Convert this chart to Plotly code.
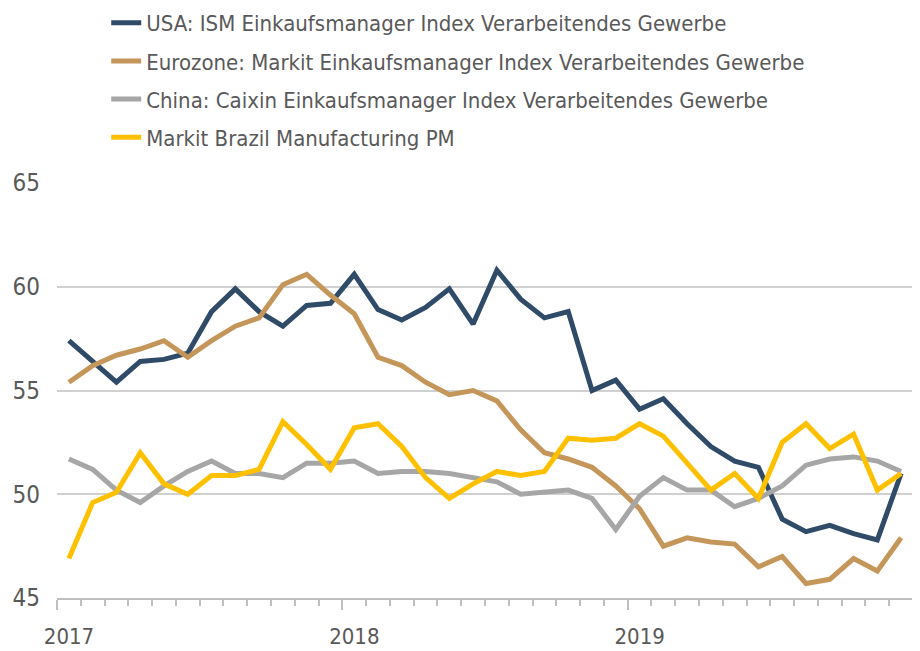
import plotly.graph_objects as go

months = [f"{y}-{m:02d}" for y in (2017, 2018, 2019) for m in range(1, 13)]
idx = list(range(len(months)))

usa = [57.4, 56.4, 55.4, 56.4, 56.5, 56.8, 58.8, 59.9, 58.8, 58.1, 59.1, 59.2,
       60.6, 58.9, 58.4, 59.0, 59.9, 58.2, 60.8, 59.4, 58.5, 58.8, 55.0, 55.5,
       54.1, 54.6, 53.4, 52.3, 51.6, 51.3, 48.8, 48.2, 48.5, 48.1, 47.8, 51.0]
eurozone = [55.4, 56.2, 56.7, 57.0, 57.4, 56.6, 57.4, 58.1, 58.5, 60.1, 60.6, 59.6,
            58.7, 56.6, 56.2, 55.4, 54.8, 55.0, 54.5, 53.1, 52.0, 51.7, 51.3, 50.4,
            49.3, 47.5, 47.9, 47.7, 47.6, 46.5, 47.0, 45.7, 45.9, 46.9, 46.3, 47.9]
china = [51.7, 51.2, 50.2, 49.6, 50.4, 51.1, 51.6, 51.0, 51.0, 50.8, 51.5, 51.5,
         51.6, 51.0, 51.1, 51.1, 51.0, 50.8, 50.6, 50.0, 50.1, 50.2, 49.8, 48.3,
         49.9, 50.8, 50.2, 50.2, 49.4, 49.8, 50.4, 51.4, 51.7, 51.8, 51.6, 51.1]
brazil = [46.9, 49.6, 50.1, 52.0, 50.5, 50.0, 50.9, 50.9, 51.2, 53.5, 52.4, 51.2,
          53.2, 53.4, 52.3, 50.8, 49.8, 50.5, 51.1, 50.9, 51.1, 52.7, 52.6, 52.7,
          53.4, 52.8, 51.5, 50.2, 51.0, 49.8, 52.5, 53.4, 52.2, 52.9, 50.2, 51.0]

names = ["USA: ISM Einkaufsmanager Index Verarbeitendes Gewerbe",
         "Eurozone: Markit Einkaufsmanager Index Verarbeitendes Gewerbe",
         "China: Caixin Einkaufsmanager Index Verarbeitendes Gewerbe",
         "Markit Brazil Manufacturing PM"]
colors = ["#2F4B68", "#C4965A", "#A6A6A6", "#FFC000"]
series = [usa, eurozone, china, brazil]

year_ticks = [-0.5, 11.5, 23.5, 35.5]
year_labels = ["2017", "2018", "2019", ""]
y_ticks = [45, 50, 55, 60, 65]

FONT = "DejaVu Sans Condensed, sans-serif"

fig = go.Figure()
for i, (name, col, vals) in enumerate(zip(names, colors, series)):
    fig.add_trace(go.Scatter(x=idx, y=vals, name=name, mode="lines",
                             legendgroup=f"g{i}",
                             line=dict(color=col, width=5)))

fig.update_layout(
    width=920, height=651,
    margin=dict(l=49, r=15, t=175, b=61, autoexpand=False),
    paper_bgcolor="white", plot_bgcolor="white",
    font=dict(family=FONT, color="#595959", size=22),
    showlegend=True,
    legend=dict(x=0.0575, xanchor="left", y=1.436, yanchor="top",
                font=dict(size=22, color="#595959"),
                tracegroupgap=6.5,
                bgcolor="rgba(0,0,0,0)", traceorder="grouped"),
)
fig.update_xaxes(range=[-0.5, 35.5], tickmode="array", tickvals=year_ticks,
                 ticktext=year_labels, ticks="outside", ticklen=10, tickwidth=1.5,
                 tickcolor="#BFBFBF", ticklabelshift=12, ticklabelstandoff=8,
                 showline=True, linecolor="#BFBFBF", linewidth=2,
                 showgrid=False, zeroline=False,
                 minor=dict(tick0=-0.5, dtick=1, ticks="outside", ticklen=6,
                            tickwidth=1.5, tickcolor="#BFBFBF", showgrid=False),
                 tickfont=dict(size=22, color="#595959"))
fig.update_yaxes(range=[45, 65], tickmode="array", tickvals=y_ticks,
                 showgrid=True, gridcolor="#D0D0D0", gridwidth=2,
                 zeroline=False, showline=False, ticks="",
                 ticklabelstandoff=16,
                 tickfont=dict(size=24, color="#595959"))

fig.write_html("out.html")
